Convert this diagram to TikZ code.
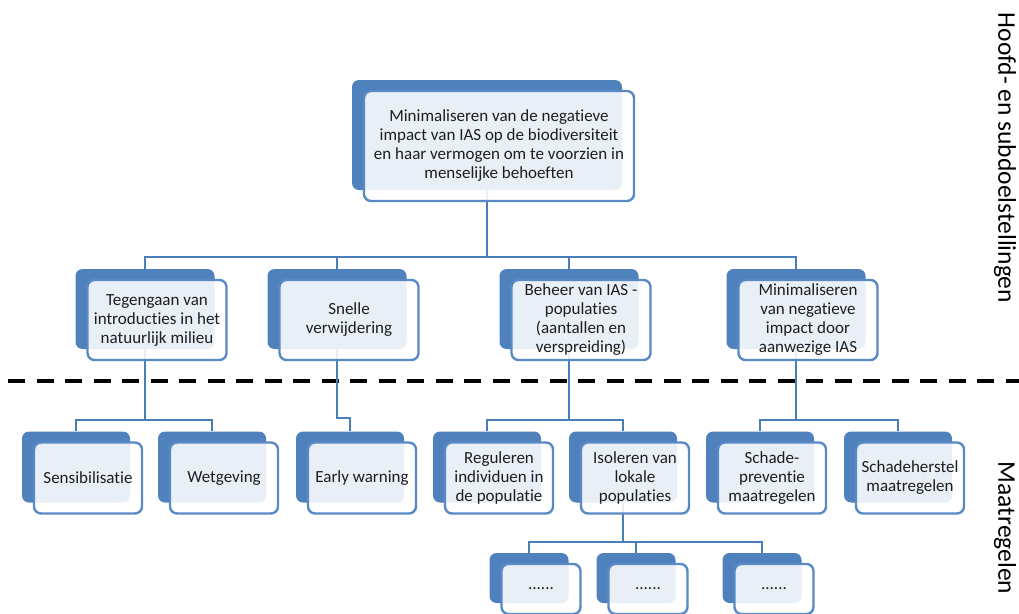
\documentclass[tikz,border=0pt]{standalone}
\usepackage{fontspec}
\setmainfont{Carlito}[Ligatures=NoCommon]
\usetikzlibrary{backgrounds}

\definecolor{cardblue}{HTML}{4F81BD}
\definecolor{edgeblue}{HTML}{5A8AC6}
\definecolor{linkblue}{HTML}{4A7EBB}
\definecolor{txt}{HTML}{1E1E1E}

\begin{document}
\begin{tikzpicture}[x=1pt, y=-1pt, font=\fontsize{17}{19}\selectfont,
    back/.style = {fill=cardblue, rounded corners=7pt, inner sep=0pt},
    front/.style = {draw=edgeblue, line width=2.4pt, fill=white, fill opacity=0.88, text opacity=1,
        rounded corners=7pt, xshift=12pt, yshift=-11pt, align=center, text=txt, inner sep=1pt},
    big/.style = {minimum width=270pt, minimum height=110pt},
    mid/.style = {minimum width=139pt, minimum height=80pt},
    low/.style = {minimum width=108pt, minimum height=71pt},
    tiny/.style = {minimum width=79pt, minimum height=50pt, text depth=-4pt},
    link/.style = {draw=linkblue, line width=2.4pt},
    sep/.style = {line width=4pt, dash pattern=on 17pt off 11.5pt},
    side/.style = {rotate=-90, font=\fontsize{25.5}{28}\selectfont}]
    \useasboundingbox (0,0) rectangle (1019,613);
    \clip (0,0) rectangle (1019,613);

    % hoofddoel
    \node[back, big] (b0) at (487,135) {};
    \node[front, big] (n0) at (b0) {Minimaliseren van de negatieve\\impact van IAS op de biodiversiteit\\en haar vermogen om te voorzien in\\menselijke behoeften};

    % subdoelen
    \node[back, mid] (b1) at (145,309) {};
    \node[back, mid] (b2) at (337,309) {};
    \node[back, mid] (b3) at (569,309) {};
    \node[back, mid] (b4) at (796,309) {};
    \node[front, mid] (n1) at (b1) {Tegengaan van\\introducties in het\\natuurlijk milieu};
    \node[front, mid] (n2) at (b2) {Snelle\\verwijdering};
    \node[front, mid] (n3) at (b3) {Beheer van IAS -\\populaties\\(aantallen en\\verspreiding)};
    \node[front, mid] (n4) at (b4) {Minimaliseren\\van negatieve\\impact door\\aanwezige IAS};

    % maatregelen
    \node[back, low] (c1) at (76,467) {};
    \node[back, low] (c2) at (212,467) {};
    \node[back, low] (c3) at (350,467) {};
    \node[back, low] (c4) at (487,467) {};
    \node[back, low] (c5) at (623,467) {};
    \node[back, low] (c6) at (760,467) {};
    \node[back, low] (c7) at (898,467) {};
    \node[front, low] (m1) at (c1) {Sensibilisatie};
    \node[front, low] (m2) at (c2) {Wetgeving};
    \node[front, low] (m3) at (c3) {Early warning};
    \node[front, low] (m4) at (c4) {Reguleren\\individuen in\\de populatie};
    \node[front, low] (m5) at (c5) {Isoleren van\\lokale\\populaties};
    \node[front, low] (m6) at (c6) {Schade-\\preventie\\maatregelen};
    \node[front, low] (m7) at (c7) {Schadeherstel\\maatregelen};

    \node[back, tiny] (d1) at (529,578) {};
    \node[back, tiny] (d2) at (636,578) {};
    \node[back, tiny] (d3) at (762,578) {};
    \node[front, tiny] (k1) at (d1) {......};
    \node[front, tiny] (k2) at (d2) {......};
    \node[front, tiny] (k3) at (d3) {......};

    \coordinate (lv2) at (0,257);
    \coordinate (lv3) at (0,420);
    \coordinate (lv3b) at (0,418);
    \coordinate (lv4) at (0,542);

    \begin{scope}[on background layer]
        \coordinate (cut1) at (8,381);
        \coordinate (cut2) at (1019,381);
        \draw[sep] (cut1) -- (cut2);
        \draw[link] (b0.center) -- (b0 |- lv2) -| (b1);
        \draw[link] (b0 |- lv2) -| (b2);
        \draw[link] (b0 |- lv2) -| (b3);
        \draw[link] (b0 |- lv2) -| (b4);
        \draw[link] (b1.center) -- (b1 |- lv3) -| (c1);
        \draw[link] (b1 |- lv3) -| (c2);
        \draw[link] (b2.center) -- (b2 |- lv3b) -| (c3);
        \draw[link] (b3.center) -- (b3 |- lv3) -| (c4);
        \draw[link] (b3 |- lv3) -| (c5);
        \draw[link] (b4.center) -- (b4 |- lv3) -| (c6);
        \draw[link] (b4 |- lv3) -| (c7);
        \draw[link] (c5.center) -- (c5 |- lv4) -| (d1);
        \draw[link] (c5 |- lv4) -| (d2);
        \draw[link] (c5 |- lv4) -| (d3);
    \end{scope}

    \node[side] (goals) at (1005,158) {Hoofd- en subdoelstellingen};
    \node[side] (measures) at (1005,528) {Maatregelen};
\end{tikzpicture}
\end{document}
